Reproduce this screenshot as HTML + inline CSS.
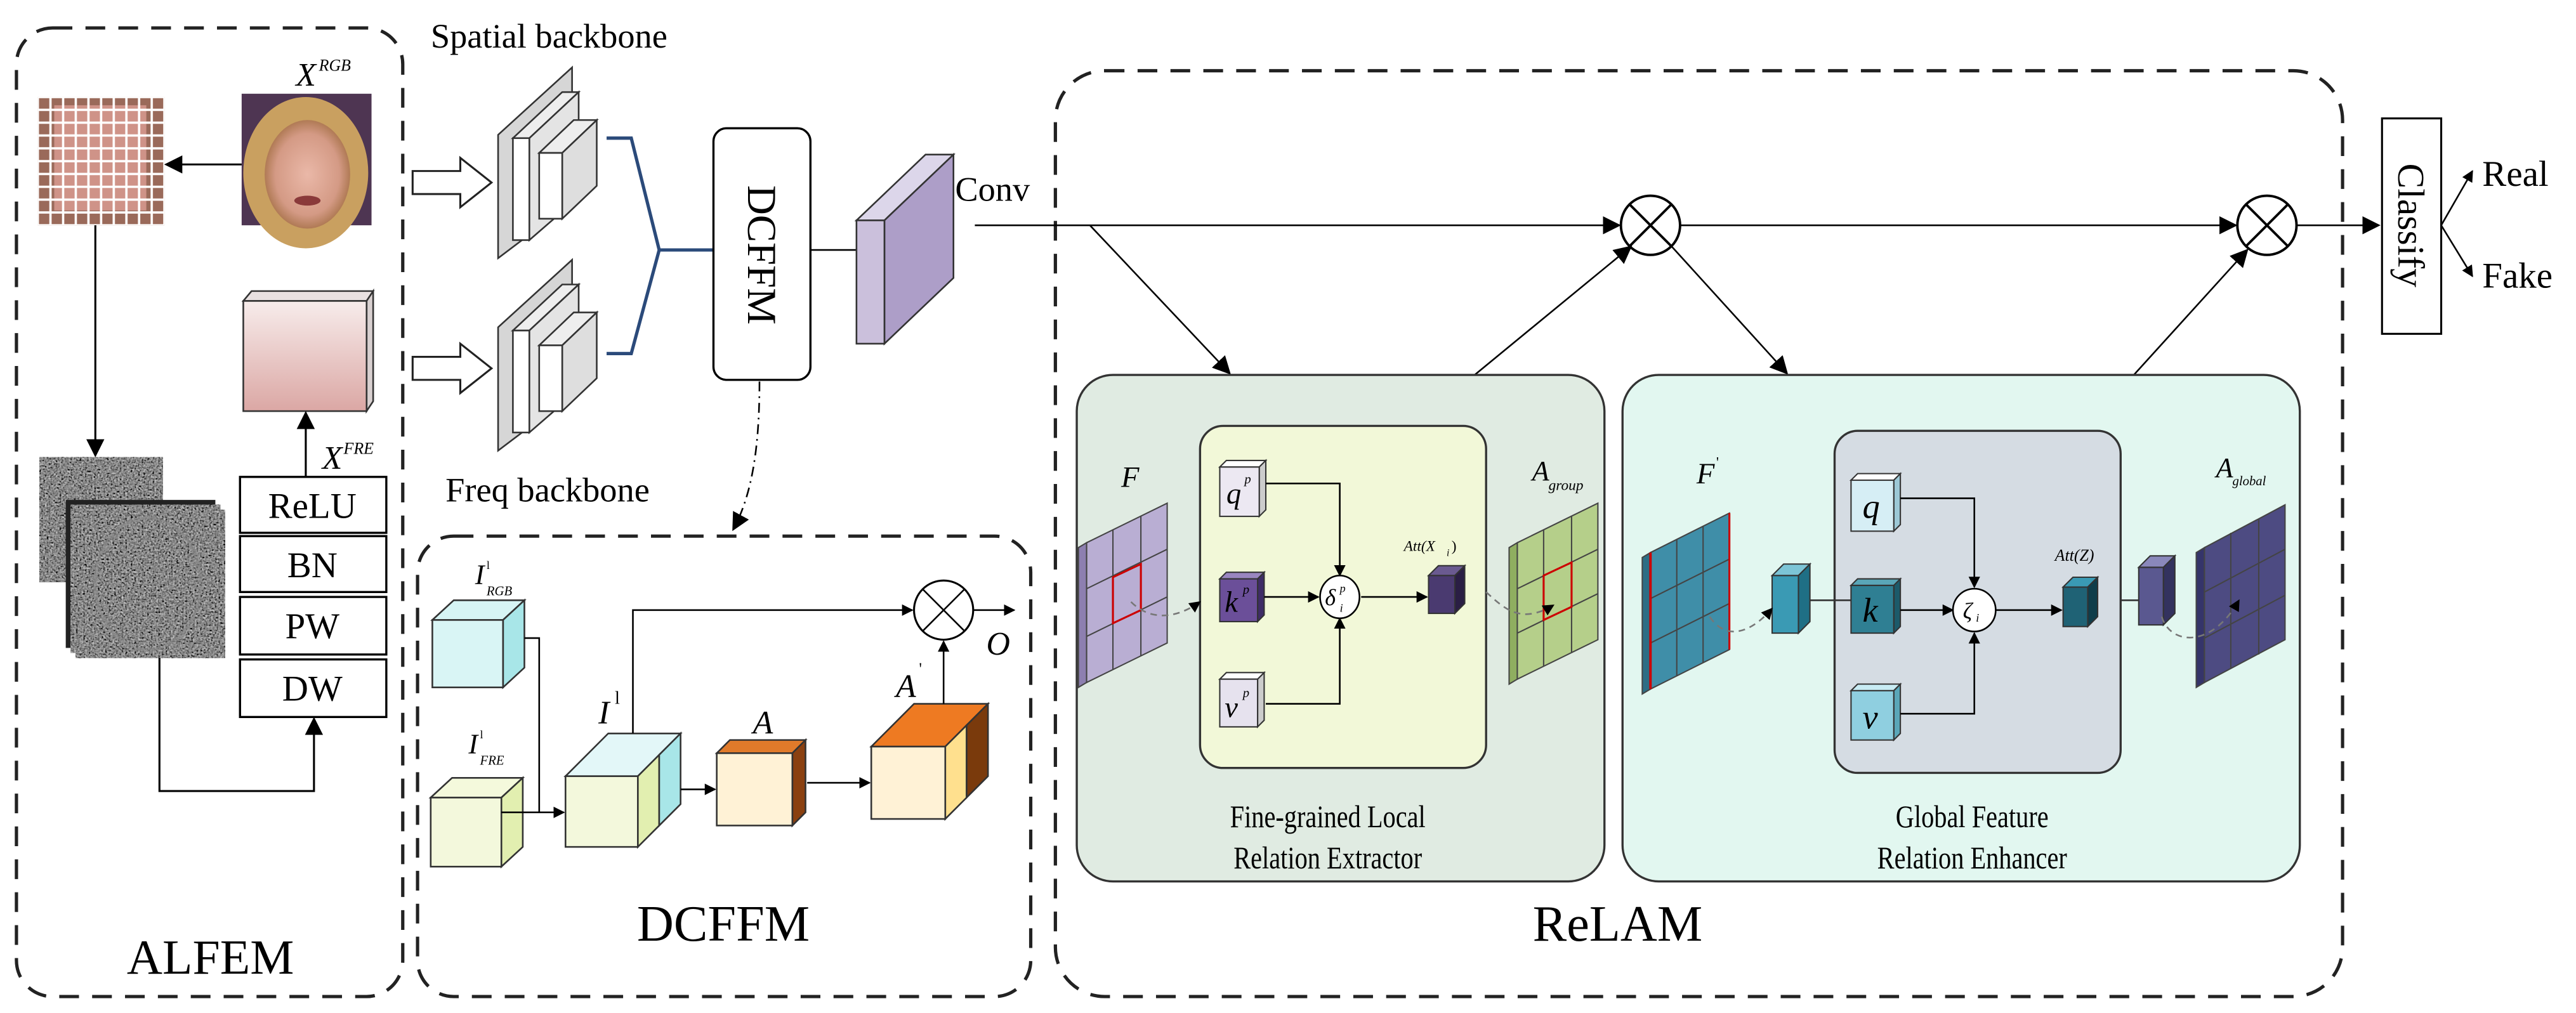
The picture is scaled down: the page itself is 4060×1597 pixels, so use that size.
<!DOCTYPE html>
<html><head><meta charset="utf-8"><style>
html,body{margin:0;padding:0;background:#fff}
svg{display:block}
text{font-family:"Liberation Serif",serif;fill:#000}
</style></head><body>
<svg width="4060" height="1597" viewBox="0 0 1567 616" preserveAspectRatio="none" xmlns="http://www.w3.org/2000/svg" font-family="Liberation Serif, serif">
<defs>
<marker id="ar" viewBox="0 0 10 10" refX="9" refY="5" markerWidth="7" markerHeight="7" orient="auto" markerUnits="userSpaceOnUse"><path d="M0,0 L10,5 L0,10 z" fill="#000"/></marker>
<marker id="arb" viewBox="0 0 10 10" refX="9" refY="5" markerWidth="11" markerHeight="11" orient="auto" markerUnits="userSpaceOnUse"><path d="M0,0 L10,5 L0,10 z" fill="#000"/></marker>
<filter id="noise" x="0" y="0" width="100%" height="100%"><feTurbulence type="fractalNoise" baseFrequency="0.9" numOctaves="2" seed="3"/><feColorMatrix type="matrix" values="0.33 0.33 0.33 0 0 0.33 0.33 0.33 0 0 0.33 0.33 0.33 0 0 0 0 0 0 1"/><feComponentTransfer><feFuncR type="linear" slope="1.6" intercept="-0.55"/><feFuncG type="linear" slope="1.6" intercept="-0.55"/><feFuncB type="linear" slope="1.6" intercept="-0.55"/></feComponentTransfer></filter>
<linearGradient id="pink" x1="0" y1="0" x2="0" y2="1"><stop offset="0" stop-color="#f7eceb"/><stop offset="1" stop-color="#dba7a4"/></linearGradient>
<pattern id="cells" x="23" y="59" width="7.7" height="7.8" patternUnits="userSpaceOnUse"><rect x="0" y="0" width="7.7" height="7.8" fill="none" stroke="#fff" stroke-width="1.4"/></pattern>
<radialGradient id="skin" cx="0.5" cy="0.5" r="0.5"><stop offset="0" stop-color="#eab8a8"/><stop offset="0.75" stop-color="#d49a85"/><stop offset="1" stop-color="#b07a55"/></radialGradient>
</defs>

<!-- ALFEM -->
<rect x="10" y="17" width="235" height="589" rx="22" fill="none" stroke="#222" stroke-width="2" stroke-dasharray="12,8"/>
<text x="128" y="592" font-size="30" text-anchor="middle">ALFEM</text>
<!-- face -->
<rect x="147" y="57" width="79" height="80" fill="#4e3552"/>
<ellipse cx="186" cy="105" rx="38" ry="46" fill="#c9a060"/>
<ellipse cx="187" cy="106" rx="26" ry="33" fill="url(#skin)"/>
<ellipse cx="187" cy="122" rx="8" ry="3" fill="#8a3a3a"/>
<text x="180" y="52" font-size="20" font-style="italic">X</text><text x="194" y="43" font-size="10" font-style="italic">RGB</text>
<!-- pixel grid -->
<rect x="23" y="59" width="77" height="78" fill="#9a6a5a"/>
<rect x="33" y="64" width="56" height="64" fill="#d89a90" opacity="0.85"/>
<rect x="23" y="59" width="77" height="78" fill="url(#cells)"/>
<line x1="147" y1="100" x2="101" y2="100" stroke="#000" stroke-width="1.2" marker-end="url(#arb)"/>
<line x1="58" y1="137" x2="58" y2="277" stroke="#000" stroke-width="1.2" marker-end="url(#arb)"/>
<!-- noise -->
<rect x="24" y="278" width="75" height="76" fill="#444" filter="url(#noise)"/>
<rect x="40" y="304" width="91" height="90" fill="#222"/>
<rect x="43" y="307" width="91" height="90" fill="#555" filter="url(#noise)"/>
<rect x="46" y="310" width="91" height="90" fill="#444" filter="url(#noise)"/>
<ellipse cx="90" cy="355" rx="32" ry="40" fill="none" stroke="#888" stroke-width="2" opacity="0.6"/>
<polyline points="97,400 97,481 191,481 191,437" fill="none" stroke="#000" stroke-width="1.2" marker-end="url(#arb)"/>
<!-- pink -->
<polygon points="148,183 153,177 227,177 223,183" fill="#e8e0e0" stroke="#333" stroke-width="1"/>
<polygon points="223,183 227,177 227,244 223,250" fill="#d8d0d0" stroke="#333" stroke-width="1"/>
<rect x="148" y="183" width="75" height="67" fill="url(#pink)" stroke="#333" stroke-width="1"/>
<line x1="186" y1="290" x2="186" y2="251" stroke="#000" stroke-width="1.2" marker-end="url(#arb)"/>
<text x="196" y="285" font-size="20" font-style="italic">X</text><text x="209" y="276" font-size="10" font-style="italic">FRE</text>
<g fill="#fff" stroke="#000" stroke-width="1.3">
<rect x="146" y="290" width="89" height="34"/><rect x="146" y="326" width="89" height="34"/>
<rect x="146" y="363" width="89" height="35"/><rect x="146" y="401" width="89" height="35"/></g>
<g font-size="22" text-anchor="middle"><text x="190" y="315">ReLU</text><text x="190" y="351">BN</text><text x="190" y="388">PW</text><text x="190" y="426">DW</text></g>

<!-- backbones -->
<text x="262" y="29" font-size="21">Spatial backbone</text>
<text x="271" y="305" font-size="21">Freq backbone</text>
<g stroke="#333" stroke-width="1">
<g id="bb">
<polygon points="303,82 348,41 348,123 303,157" fill="#d6d6d6"/>
<polygon points="312,84 342,56 352,56 322,84" fill="#eee"/>
<polygon points="322,84 352,56 352,120 322,146" fill="#e4e4e4"/>
<rect x="312" y="84" width="10" height="62" fill="#fff"/>
<polygon points="328,93 349,73 363,73 342,93" fill="#eee"/>
<polygon points="342,93 363,73 363,113 342,133" fill="#dedede"/>
<rect x="328" y="93" width="14" height="40" fill="#fff"/>
</g>
<use href="#bb" transform="translate(0,117)"/>
</g>
<polygon points="251,104 280,104 280,96 299,111 280,126 280,118 251,118" fill="#fff" stroke="#222" stroke-width="1.2"/>
<polygon points="251,217 280,217 280,209 299,224 280,239 280,231 251,231" fill="#fff" stroke="#222" stroke-width="1.2"/>
<polyline points="369,84 384,84 401,152 384,215 369,215" fill="none" stroke="#2b4a7a" stroke-width="2"/>
<line x1="401" y1="152" x2="434" y2="152" stroke="#2b4a7a" stroke-width="2"/>
<rect x="434" y="78" width="59" height="153" rx="8" fill="#fff" stroke="#000" stroke-width="1.3"/>
<text transform="translate(455,155) rotate(90)" font-size="25" text-anchor="middle">DCFFM</text>
<line x1="493" y1="152" x2="521" y2="152" stroke="#000" stroke-width="1"/>
<!-- purple conv -->
<polygon points="521,134 563,94 580,94 538,134" fill="#dcd6ea" stroke="#333"/>
<polygon points="538,134 580,94 580,169 538,209" fill="#ad9ec8" stroke="#333"/>
<rect x="521" y="134" width="17" height="75" fill="#cbc0dc" stroke="#333"/>
<text x="581" y="122" font-size="21">Conv</text>
<path d="M462,232 C462,270 458,300 446,322" fill="none" stroke="#000" stroke-width="1" stroke-dasharray="6,3,1,3" marker-end="url(#arb)"/>

<!-- DCFFM box -->
<rect x="254" y="326" width="373" height="280" rx="22" fill="none" stroke="#222" stroke-width="2" stroke-dasharray="12,8"/>
<text x="440" y="572" font-size="31" text-anchor="middle">DCFFM</text>
<g stroke="#333" stroke-width="1">
<polygon points="263,377 276,365 319,365 306,377" fill="#d6f4f4"/>
<polygon points="306,377 319,365 319,406 306,418" fill="#a8e6e8"/>
<rect x="263" y="377" width="43" height="41" fill="#d9f5f5"/>
<polygon points="262,485 275,473 318,473 305,485" fill="#f4f9dc"/>
<polygon points="305,485 318,473 318,515 305,527" fill="#e2efb0"/>
<rect x="262" y="485" width="43" height="42" fill="#f3f8dc"/>
<polygon points="344,472 370,446 414,446 388,472" fill="#e3f7f8"/>
<polygon points="388,472 401,459 401,502 388,515" fill="#e2efb0"/>
<polygon points="401,459 414,446 414,489 401,502" fill="#a8e6e8"/>
<rect x="344" y="472" width="44" height="43" fill="#f3f8dc"/>
<polygon points="436,458 444,450 490,450 482,458" fill="#e07a2a"/>
<polygon points="482,458 490,450 490,494 482,502" fill="#8a4010"/>
<rect x="436" y="458" width="46" height="44" fill="#fff2d6"/>
<polygon points="530,454 556,428 601,428 575,454" fill="#ee7a22"/>
<polygon points="575,454 588,441 588,485 575,498" fill="#ffe08e"/>
<polygon points="588,441 601,428 601,472 588,485" fill="#7a3a0c"/>
<rect x="530" y="454" width="45" height="44" fill="#fff2d6"/>
</g>
<text x="289" y="355" font-size="17" font-style="italic">I</text><text x="296" y="346" font-size="7">l</text><text x="296" y="362" font-size="8" font-style="italic">RGB</text>
<text x="285" y="458" font-size="17" font-style="italic">I</text><text x="292" y="449" font-size="7">l</text><text x="292" y="465" font-size="8" font-style="italic">FRE</text>
<text x="364" y="440" font-size="20" font-style="italic">I</text><text x="374" y="428" font-size="11">l</text>
<text x="458" y="446" font-size="20" font-style="italic">A</text>
<text x="545" y="424" font-size="20" font-style="italic">A</text><text x="559" y="410" font-size="10">'</text>
<text x="600" y="398" font-size="20" font-style="italic">O</text>
<polyline points="319,388 328,388 328,494 343,494" fill="none" stroke="#000" stroke-width="1" marker-end="url(#ar)"/>
<polyline points="305,494 328,494" fill="none" stroke="#000" stroke-width="1"/>
<polyline points="385,446 385,371 555,371" fill="none" stroke="#000" stroke-width="1" marker-end="url(#ar)"/>
<circle cx="574" cy="371" r="18" fill="#fff" stroke="#000" stroke-width="1.2"/>
<line x1="561" y1="358" x2="587" y2="384" stroke="#000"/><line x1="587" y1="358" x2="561" y2="384" stroke="#000"/>
<line x1="592" y1="371" x2="617" y2="371" stroke="#000" marker-end="url(#ar)"/>
<line x1="574" y1="428" x2="574" y2="390" stroke="#000" marker-end="url(#ar)"/>
<line x1="414" y1="480" x2="435" y2="480" stroke="#000" marker-end="url(#ar)"/>
<line x1="491" y1="476" x2="529" y2="476" stroke="#000" marker-end="url(#ar)"/>

<!-- ReLAM -->
<rect x="642" y="43" width="783" height="563" rx="30" fill="none" stroke="#222" stroke-width="2" stroke-dasharray="12,8"/>
<text x="984" y="572" font-size="31" text-anchor="middle">ReLAM</text>
<line x1="593" y1="137" x2="985" y2="137" stroke="#000" stroke-width="1" marker-end="url(#arb)"/>
<line x1="1022" y1="137" x2="1360" y2="137" stroke="#000" stroke-width="1" marker-end="url(#arb)"/>
<line x1="1397" y1="137" x2="1447" y2="137" stroke="#000" stroke-width="1" marker-end="url(#arb)"/>
<g fill="#fff" stroke="#000" stroke-width="1.5">
<circle cx="1004" cy="137" r="18"/><circle cx="1379" cy="137" r="18"/></g>
<g stroke="#000" stroke-width="1.5"><line x1="991" y1="124" x2="1017" y2="150"/><line x1="1017" y1="124" x2="991" y2="150"/>
<line x1="1366" y1="124" x2="1392" y2="150"/><line x1="1392" y1="124" x2="1366" y2="150"/></g>
<rect x="1449" y="72" width="36" height="131" fill="#fff" stroke="#000" stroke-width="1.2"/>
<text transform="translate(1459,137) rotate(90)" font-size="23" text-anchor="middle">Classify</text>
<line x1="1485" y1="137" x2="1504" y2="104" stroke="#000" marker-end="url(#ar)"/>
<line x1="1485" y1="137" x2="1504" y2="168" stroke="#000" marker-end="url(#ar)"/>
<text x="1510" y="113" font-size="22">Real</text>
<text x="1510" y="175" font-size="22">Fake</text>
<line x1="663" y1="137" x2="748" y2="227" stroke="#000" marker-end="url(#arb)"/>
<line x1="897" y1="228" x2="992" y2="150" stroke="#000" marker-end="url(#arb)"/>
<line x1="1017" y1="150" x2="1087" y2="227" stroke="#000" marker-end="url(#arb)"/>
<line x1="1298" y1="228" x2="1367" y2="152" stroke="#000" marker-end="url(#arb)"/>

<rect x="655" y="228" width="321" height="308" rx="22" fill="#e0ebe2" stroke="#333" stroke-width="1.3"/>
<rect x="987" y="228" width="412" height="308" rx="22" fill="#e2f7f0" stroke="#333" stroke-width="1.3"/>
<rect x="730" y="259" width="174" height="208" rx="14" fill="#f2f8d8" stroke="#333" stroke-width="1.3"/>
<rect x="1116" y="262" width="174" height="208" rx="14" fill="#d5dce3" stroke="#333" stroke-width="1.3"/>
<g font-size="19" text-anchor="middle" transform="scale(0.82,1)">
<text x="985" y="503">Fine-grained Local</text><text x="985" y="528">Relation Extractor</text>
<text x="1463" y="503">Global Feature</text><text x="1463" y="528">Relation Enhancer</text></g>

<g stroke="#444" stroke-width="0.8">
<polygon points="656,333 661,330 661,415 656,418" fill="#8d7fb0"/>
<polygon points="661,330 710,306 710,391 661,415" fill="#b9aed3"/>
<line x1="677" y1="322" x2="677" y2="407"/><line x1="694" y1="314" x2="694" y2="399"/>
<line x1="661" y1="358" x2="710" y2="334"/><line x1="661" y1="387" x2="710" y2="363"/>
<polygon points="677,351 694,343 694,371 677,379" fill="none" stroke="#c00" stroke-width="1.2"/>
<polygon points="918,333 923,330 923,413 918,416" fill="#8fae60"/>
<polygon points="923,330 972,306 972,389 923,413" fill="#b5cf8a"/>
<line x1="939" y1="322" x2="939" y2="405"/><line x1="956" y1="314" x2="956" y2="397"/>
<line x1="923" y1="358" x2="972" y2="334"/><line x1="923" y1="385" x2="972" y2="361"/>
<polygon points="939,350 956,342 956,369 939,377" fill="none" stroke="#c00" stroke-width="1.2"/>
<polygon points="999,339 1004,336 1004,419 999,422" fill="#2d6e85"/>
<polygon points="1004,336 1052,312 1052,395 1004,419" fill="#3f8ea8"/>
<line x1="1020" y1="328" x2="1020" y2="411"/><line x1="1036" y1="320" x2="1036" y2="403"/>
<line x1="1004" y1="364" x2="1052" y2="340"/><line x1="1004" y1="391" x2="1052" y2="367"/>
<line x1="1004" y1="336" x2="1004" y2="419" stroke="#c00" stroke-width="1.5"/>
<line x1="1052" y1="312" x2="1052" y2="395" stroke="#c00" stroke-width="1.2"/>
<polygon points="1336,336 1341,333 1341,415 1336,418" fill="#35346a"/>
<polygon points="1341,333 1390,307 1390,389 1341,415" fill="#4d4b82"/>
<line x1="1357" y1="324" x2="1357" y2="406"/><line x1="1374" y1="316" x2="1374" y2="398"/>
<line x1="1341" y1="360" x2="1390" y2="334"/><line x1="1341" y1="388" x2="1390" y2="362"/>
</g>
<text x="682" y="296" font-size="18" font-style="italic">F</text>
<text x="932" y="292" font-size="17" font-style="italic">A</text><text x="942" y="298" font-size="9" font-style="italic">group</text>
<text x="1032" y="294" font-size="18" font-style="italic">F</text><text x="1044" y="284" font-size="9">'</text>
<text x="1348" y="290" font-size="17" font-style="italic">A</text><text x="1358" y="295" font-size="8" font-style="italic">global</text>
<text x="854" y="335" font-size="9" font-style="italic">Att(X</text><text x="880" y="338" font-size="6" font-style="italic">i</text><text x="883" y="335" font-size="9">)</text>
<text x="1250" y="341" font-size="10" font-style="italic">Att(Z)</text>

<g stroke="#333" stroke-width="0.8">
<polygon points="742,284 746,280 770,280 766,284" fill="#fff"/><polygon points="766,284 770,280 770,310 766,314" fill="#ccc"/><rect x="742" y="284" width="24" height="30" fill="#ece8f2"/>
<polygon points="742,352 746,348 769,348 765,352" fill="#9a86c0"/><polygon points="765,352 769,348 769,374 765,378" fill="#3e2c66"/><rect x="742" y="352" width="23" height="26" fill="#6b4f99"/>
<polygon points="742,413 746,409 769,409 765,413" fill="#fff"/><polygon points="765,413 769,409 769,438 765,442" fill="#ccc"/><rect x="742" y="413" width="23" height="29" fill="#e6e2ee"/>
<polygon points="869,350 875,344 891,344 885,350" fill="#6a5a90"/><polygon points="885,350 891,344 891,367 885,373" fill="#2a1e44"/><rect x="869" y="350" width="16" height="23" fill="#4a3a70"/>
<polygon points="1126,292 1130,288 1156,288 1152,292" fill="#fff"/><polygon points="1152,292 1156,288 1156,319 1152,323" fill="#9cc8d6"/><rect x="1126" y="292" width="26" height="31" fill="#d6eef5"/>
<polygon points="1126,356 1130,352 1156,352 1152,356" fill="#5aa6b8"/><polygon points="1152,356 1156,352 1156,381 1152,385" fill="#1c5a6a"/><rect x="1126" y="356" width="26" height="29" fill="#2f7f93"/>
<polygon points="1126,420 1130,416 1156,416 1152,420" fill="#c8ecf4"/><polygon points="1152,420 1156,416 1156,446 1152,450" fill="#5aa6b8"/><rect x="1126" y="420" width="26" height="30" fill="#8fcfe0"/>
<polygon points="1078,350 1085,343 1101,343 1094,350" fill="#7cc4d6"/><polygon points="1094,350 1101,343 1101,378 1094,385" fill="#1f6f85"/><rect x="1078" y="350" width="16" height="35" fill="#3a9ab4"/>
<polygon points="1255,357 1261,351 1276,351 1270,357" fill="#3a9ab4"/><polygon points="1270,357 1276,351 1276,375 1270,381" fill="#0f3d4a"/><rect x="1255" y="357" width="15" height="24" fill="#1f6275"/>
<polygon points="1301,345 1308,338 1323,338 1316,345" fill="#8a88bb"/><polygon points="1316,345 1323,338 1323,373 1316,380" fill="#33325e"/><rect x="1301" y="345" width="15" height="35" fill="#5a5890"/>
</g>
<g font-style="italic"><text x="746" y="306" font-size="18">q</text><text x="757" y="294" font-size="8">p</text>
<text x="745" y="372" font-size="18">k</text><text x="756" y="361" font-size="8">p</text>
<text x="745" y="436" font-size="18">v</text><text x="756" y="424" font-size="8">p</text>
<text x="1133" y="315" font-size="21">q</text><text x="1133" y="378" font-size="21">k</text><text x="1133" y="443" font-size="21">v</text></g>
<polyline points="770,294 815,294 815,350" fill="none" stroke="#000" stroke-width="1" marker-end="url(#ar)"/>
<polyline points="770,428 815,428 815,376" fill="none" stroke="#000" stroke-width="1" marker-end="url(#ar)"/>
<line x1="769" y1="363" x2="802" y2="363" stroke="#000" marker-end="url(#ar)"/>
<line x1="828" y1="363" x2="868" y2="363" stroke="#000" marker-end="url(#ar)"/>
<ellipse cx="815" cy="363" rx="12" ry="13" fill="#fff" stroke="#000"/>
<text x="806" y="368" font-size="14" font-style="italic">δ</text><text x="815" y="360" font-size="7" font-style="italic">p</text><text x="815" y="372" font-size="7" font-style="italic">i</text>
<polyline points="1156,303 1201,303 1201,357" fill="none" stroke="#000" marker-end="url(#ar)"/>
<polyline points="1156,434 1201,434 1201,385" fill="none" stroke="#000" marker-end="url(#ar)"/>
<line x1="1156" y1="371" x2="1188" y2="371" stroke="#000" marker-end="url(#ar)"/>
<line x1="1214" y1="371" x2="1254" y2="371" stroke="#000" marker-end="url(#ar)"/>
<line x1="1101" y1="365" x2="1126" y2="365" stroke="#333"/>
<line x1="1290" y1="365" x2="1301" y2="365" stroke="#333"/>
<ellipse cx="1201" cy="371" rx="13" ry="13" fill="#fff" stroke="#000"/>
<text x="1194" y="376" font-size="14" font-style="italic">ζ</text><text x="1202" y="378" font-size="7" font-style="italic">i</text>
<g fill="none" stroke="#777" stroke-width="1" stroke-dasharray="4,3">
<path d="M688,366 C700,378 716,376 730,366" marker-end="url(#ar)"/>
<path d="M904,360 C915,370 925,380 945,368" marker-end="url(#ar)"/>
<path d="M1040,375 C1050,390 1065,385 1078,370" marker-end="url(#ar)"/>
<path d="M1315,375 C1320,392 1345,395 1362,365" marker-end="url(#ar)"/>
</g>
</svg>
</body></html>
